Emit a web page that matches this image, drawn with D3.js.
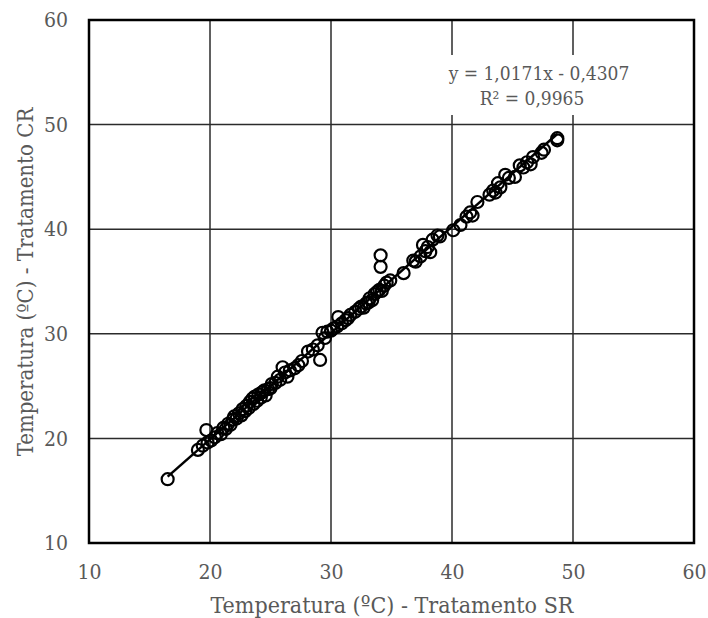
<!DOCTYPE html>
<html><head><meta charset="utf-8">
<script src="https://cdn.jsdelivr.net/npm/d3@7"></script>
<style>body{margin:0;background:#fff}svg{display:block}</style>
</head><body>
<svg id="c" width="708" height="618"></svg>
<script>
const xTicks = [10, 20, 30, 40, 50, 60];
const yTicks = [10, 20, 30, 40, 50, 60];
const xLabel = "Temperatura (ºC) - Tratamento SR";
const yLabel = "Temperatura (ºC) - Tratamento CR";
const eqText = "y = 1,0171x - 0,4307";
const r2Text = "R² = 0,9965";
const slope = 1.0171, intercept = -0.4307;
const xSR = [16.5,19.0,19.4,19.7,19.8,20.1,20.4,20.6,20.9,21.1,21.3,21.5,21.7,21.9,22.0,22.2,22.4,22.6,22.7,22.9,23.0,23.2,23.3,23.5,23.6,23.7,23.9,24.0,24.2,24.3,24.5,24.6,24.8,25.0,25.1,25.4,25.6,25.8,26.0,26.2,26.4,26.6,27.0,27.3,27.6,28.1,28.5,28.9,29.1,29.3,29.5,29.7,30.0,30.2,30.5,30.6,30.9,31.2,31.4,31.6,32.0,32.3,32.5,32.7,32.9,33.1,33.2,33.4,33.6,33.8,34.0,34.1,34.1,34.2,34.4,34.6,34.9,36.0,36.8,37.0,37.4,37.6,37.8,38.0,38.2,38.4,38.8,39.0,40.1,40.7,41.2,41.5,41.7,42.1,43.1,43.4,43.6,43.8,44.0,44.4,44.7,45.2,45.6,45.9,46.2,46.5,46.7,47.4,47.6,48.7,48.7];
const yCR = [16.1,18.9,19.3,20.8,19.6,19.8,20.1,20.5,20.4,21.0,20.9,21.4,21.3,21.8,22.1,21.9,22.4,22.2,22.8,22.6,23.1,22.9,23.5,23.8,23.3,24.0,23.6,24.2,23.9,24.4,24.6,24.1,24.7,24.8,25.2,25.3,25.9,25.6,26.8,26.3,25.9,26.5,26.7,27.0,27.4,28.3,28.5,28.9,27.5,30.1,29.6,30.2,30.3,30.5,30.7,31.6,31.0,31.3,31.5,31.8,32.1,32.4,32.6,32.5,32.9,33.0,33.4,33.2,33.8,34.0,34.2,37.5,36.4,34.1,34.6,34.9,35.1,35.8,37.0,36.9,37.4,38.5,37.9,38.3,37.8,39.0,39.4,39.3,39.9,40.4,41.2,41.6,41.3,42.6,43.3,43.7,43.5,44.4,44.0,45.2,44.9,45.0,46.1,45.9,46.4,46.2,46.9,47.3,47.6,48.7,48.5];

const font = "'DejaVu Serif Condensed', 'DejaVu Serif', serif";
const svg = d3.select("#c");
const L = 89, R = 694, T = 20, B = 543;
const x = d3.scaleLinear().domain([10, 60]).range([L, R]);
const y = d3.scaleLinear().domain([10, 60]).range([B, T]);

// grid
svg.append("g").selectAll("line").data(xTicks.slice(1, -1)).join("line")
  .attr("x1", d => x(d)).attr("x2", d => x(d)).attr("y1", T).attr("y2", B)
  .attr("stroke", "#2b2b2b").attr("stroke-width", 1.5);
svg.append("g").selectAll("line").data(yTicks.slice(1, -1)).join("line")
  .attr("y1", d => y(d)).attr("y2", d => y(d)).attr("x1", L).attr("x2", R)
  .attr("stroke", "#2b2b2b").attr("stroke-width", 1.5);

// axes (labels only)
const xAxis = svg.append("g").attr("transform", `translate(0,${B})`)
  .call(d3.axisBottom(x).tickValues(xTicks).tickSize(0).tickPadding(21).tickFormat(d3.format("d")));
const yAxis = svg.append("g").attr("transform", `translate(${L},0)`)
  .call(d3.axisLeft(y).tickValues(yTicks).tickSize(0).tickPadding(21).tickFormat(d3.format("d")));
[xAxis, yAxis].forEach(a => {
  a.select(".domain").remove();
  a.selectAll("text").attr("font-family", font).attr("font-size", 21).attr("fill", "#595959");
});

// trendline
const xr = d3.extent(xSR);
svg.append("line")
  .attr("x1", x(xr[0])).attr("y1", y(slope * xr[0] + intercept))
  .attr("x2", x(xr[1])).attr("y2", y(slope * xr[1] + intercept))
  .attr("stroke", "#000").attr("stroke-width", 2.5);

// points
svg.append("g").selectAll("circle").data(xSR.map((v, i) => [v, yCR[i]])).join("circle")
  .attr("cx", d => x(d[0])).attr("cy", d => y(d[1])).attr("r", 6)
  .attr("fill", "none").attr("stroke", "#000").attr("stroke-width", 2.2);

// border
svg.append("rect").attr("x", L).attr("y", T).attr("width", R - L).attr("height", B - T)
  .attr("fill", "none").attr("stroke", "#000").attr("stroke-width", 2.5);

// equation label
svg.append("rect").attr("x", 444).attr("y", 55).attr("width", 182).attr("height", 60).attr("fill", "#fff");
svg.append("text").attr("x", 539).attr("y", 80).attr("text-anchor", "middle")
  .attr("font-family", font).attr("font-size", 19).attr("fill", "#595959").text(eqText);
svg.append("text").attr("x", 532).attr("y", 105).attr("text-anchor", "middle")
  .attr("font-family", font).attr("font-size", 19).attr("fill", "#595959").text(r2Text);

// axis titles
svg.append("text").attr("x", 392).attr("y", 613).attr("text-anchor", "middle")
  .attr("font-family", font).attr("font-size", 23).attr("fill", "#595959").text(xLabel);
svg.append("text").attr("transform", `translate(33,282) rotate(-90)`).attr("text-anchor", "middle")
  .attr("font-family", font).attr("font-size", 22).attr("fill", "#595959").text(yLabel);
</script>
</body></html>
